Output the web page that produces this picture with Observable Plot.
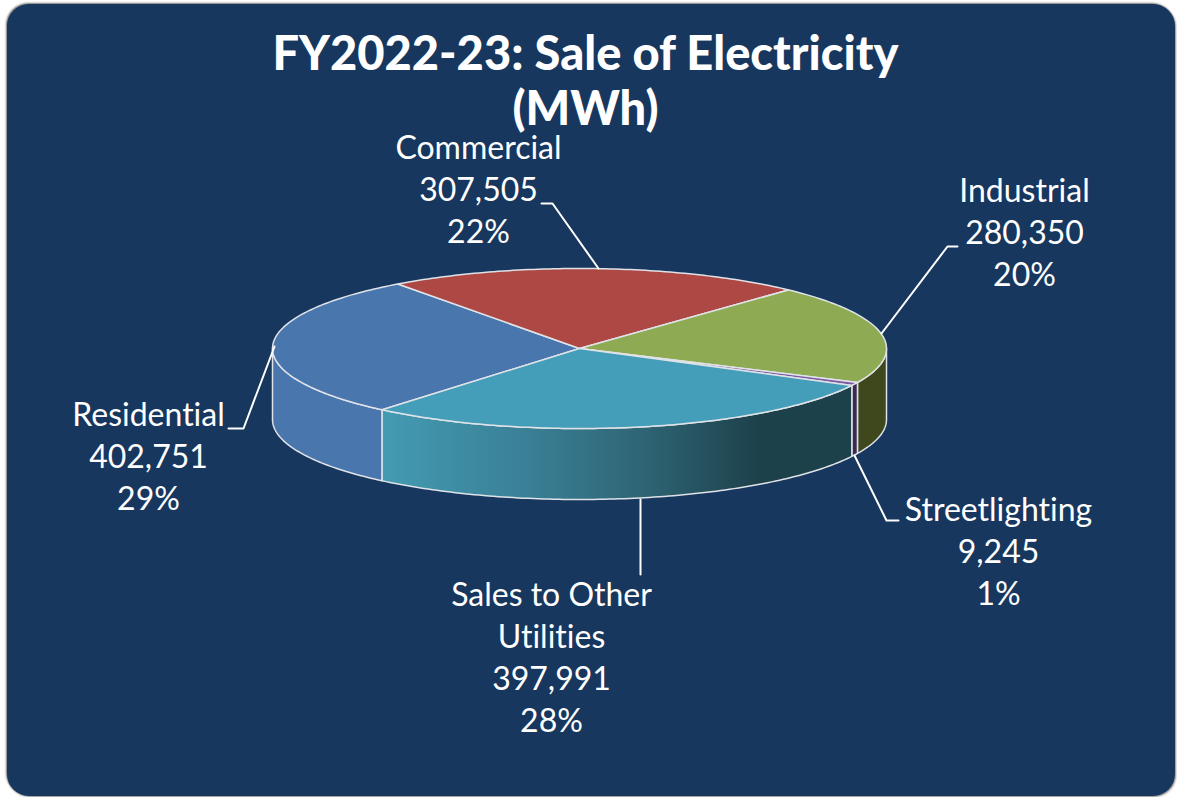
<!DOCTYPE html>
<html>
<head>
<meta charset="utf-8">
<script src="https://cdn.jsdelivr.net/npm/d3@7"></script>
<script src="https://cdn.jsdelivr.net/npm/@observablehq/plot@0.6"></script>
<style>
  html, body { margin: 0; padding: 0; background: #fff; overflow: hidden; width: 1177px; height: 797px; }
  #panel { position: absolute; left: 7px; top: 4px; width: 1168px; height: 792px; background: #17375e; border-radius: 22px; box-shadow: -1px -1px 2px #777, 1px 1px 2px #8a8a8a; }
  #chart { position: absolute; left: 0; top: 0; }
  svg text { font-variant-ligatures: none; }
</style>
</head>
<body>
<div id="panel"></div>
<div id="chart"></div>
<script>
// Data
const names = ["Residential", "Commercial", "Industrial", "Streetlighting", "Sales to Other\nUtilities"];
const values = [402751, 307505, 280350, 9245, 397991];
const topColors = ["#4a76ae", "#ae4845", "#8eab53", "#7d5aa3", "#449db9"];
const sideColors = ["#4a76ae", "#ae4845", "#3f471d", "#3c2a52", "url(#salesSide)"];
const gradientStops = [[0, "#439bb2"], [0.3, "#3a8097"], [0.55, "#2f6575"], [0.8, "#1d414b"], [1, "#1d414b"]];
const titleLines = ["FY2022-23: Sale of Electricity", "(MWh)"];

// Layout (pixels on the 1177x797 picture)
const cx = 579, cy = 348, rx = 307, ry = 80, depth = 71;
const firstAngle = 220 * Math.PI / 180;
const labelPos = [[148, 454], [478, 187], [1024, 230], [998, 549], [551, 655]];
const leaders = [
  [[274, 346], [243, 428], [228, 428]],
  [[541, 203], [552, 203], [598, 268]],
  [[881, 333], [947, 246], [957, 246]],
  [[854, 455], [886, 520], [898, 520]],
  [[640, 499], [640, 574]]
];

const ux = px => (px - cx) / rx;
const uy = py => (py - cy) / ry;
const lineColor = "#dfe3e8";

const arcs = d3.pie().sort(null).startAngle(firstAngle).endAngle(firstAngle + 2 * Math.PI)(values);
const total = d3.sum(values);
const pt = (a, d = 0) => ({x: Math.sin(a), y: -Math.cos(a) + d});
const arcPoints = (a0, a1, d = 0) => {
  const n = Math.max(2, Math.ceil((a1 - a0) * 60));
  return d3.range(n + 1).map(i => pt(a0 + (a1 - a0) * i / n, d));
};
const d = depth / ry;
const TAU = 2 * Math.PI;

// Top faces
const topMarks = arcs.map((s, i) => {
  const pts = [{x: 0, y: 0}, ...arcPoints(s.startAngle, s.endAngle), {x: 0, y: 0}];
  return Plot.line(pts, {x: "x", y: "y", fill: topColors[i], stroke: lineColor, strokeWidth: 1.5, curve: "linear"});
});

// Front walls: the part of every slice in the front half of the ellipse
const sideMarks = [];
arcs.forEach((s, i) => {
  [0, TAU].forEach(shift => {
    const a0 = Math.max(s.startAngle - shift, Math.PI / 2);
    const a1 = Math.min(s.endAngle - shift, 3 * Math.PI / 2);
    if (a1 <= a0) return;
    const pts = [...arcPoints(a0, a1), ...arcPoints(a0, a1, d).reverse()];
    pts.push(pts[0]);
    sideMarks.push(Plot.line(pts, {x: "x", y: "y", fill: sideColors[i], stroke: lineColor, strokeWidth: 1.5, curve: "linear"}));
  });
});

const labels = names.map((n, i) => ({
  text: `${n}\n${d3.format(",")(values[i])}\n${Math.round(values[i] / total * 100)}%`,
  x: ux(labelPos[i][0]), y: uy(labelPos[i][1])
}));

const leaderData = leaders.flatMap((l, k) => l.map(([x, y]) => ({k, x: ux(x), y: uy(y)})));

const defs = () => {
  const ns = "http://www.w3.org/2000/svg";
  const g = document.createElementNS(ns, "defs");
  const lg = document.createElementNS(ns, "linearGradient");
  lg.setAttribute("id", "salesSide");
  lg.setAttribute("gradientUnits", "userSpaceOnUse");
  lg.setAttribute("x1", 382); lg.setAttribute("x2", 852);
  lg.setAttribute("y1", 0); lg.setAttribute("y2", 0);
  gradientStops.forEach(([o, c]) => {
    const st = document.createElementNS(ns, "stop");
    st.setAttribute("offset", o); st.setAttribute("stop-color", c);
    lg.appendChild(st);
  });
  g.appendChild(lg);
  return g;
};

const chart = Plot.plot({
  width: 1177, height: 797,
  margin: 0,
  x: {domain: [-1, 1], range: [cx - rx, cx + rx], axis: null},
  y: {domain: [-1, 1], range: [cy - ry, cy + ry], axis: null},
  style: {background: "transparent", fontFamily: "Lato, 'Open Sans', sans-serif", overflow: "visible"},
  marks: [
    defs,
    ...sideMarks,
    ...topMarks,
    Plot.line(leaderData, {x: "x", y: "y", z: "k", stroke: "#ffffff", strokeWidth: 2, curve: "linear"}),
    Plot.text(labels, {x: "x", y: "y", text: "text", fill: "#ffffff", fontSize: 32, lineHeight: 1.31, lineAnchor: "middle", textAnchor: "middle"}),
    Plot.text(titleLines, {x: () => ux(585), y: (t, i) => uy(i === 0 ? 54 : 109), text: t => t, fill: "#ffffff", fontSize: 47, fontWeight: 900, lineAnchor: "middle", textAnchor: "middle"})
  ]
});
document.getElementById("chart").appendChild(chart);
</script>
</body>
</html>
